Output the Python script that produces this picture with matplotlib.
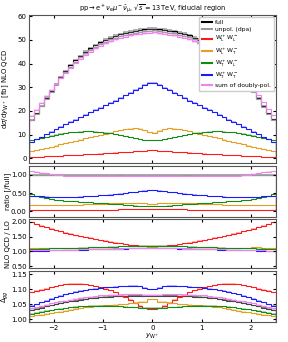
import numpy as np
import matplotlib
matplotlib.use('Agg')
import matplotlib.pyplot as plt
from matplotlib.lines import Line2D

# bins in y_W+
edges = np.linspace(-2.5, 2.5, 51)

# dsigma/dy [fb], NLO QCD
full = [16.4, 19.0, 22.2, 25.4, 28.4, 31.4, 34.3, 36.9, 39.3, 41.4, 43.3, 45.0, 46.5, 47.8, 49.0, 50.0, 51.0, 51.8, 52.5, 53.0, 53.5, 53.9, 54.3, 54.5, 54.7,
        54.8, 54.4, 54.3, 53.8, 53.6, 53.0, 52.6, 51.9, 51.0, 50.1, 48.9, 47.9, 46.4, 45.1, 43.2, 41.5, 39.2, 37.0, 34.2, 31.5, 28.3, 25.5, 22.1, 19.1, 16.5]
unpol = [16.2, 18.8, 21.9, 25.0, 28.0, 30.9, 33.8, 36.3, 38.7, 40.8, 42.7, 44.3, 45.8, 47.1, 48.3, 49.3, 50.2, 51.0, 51.7, 52.2, 52.7, 53.1, 53.5, 53.7, 53.9,
         54.0, 53.6, 53.5, 53.0, 52.8, 52.2, 51.8, 51.1, 50.2, 49.3, 48.2, 47.1, 45.7, 44.4, 42.6, 40.9, 38.6, 36.4, 33.7, 31.0, 27.9, 25.1, 21.8, 18.8, 16.3]
sumpol = [17.9, 20.5, 23.5, 26.4, 29.0, 31.4, 33.9, 36.2, 38.3, 40.3, 42.1, 43.7, 45.1, 46.4, 47.6, 48.5, 49.5, 50.3, 50.9, 51.4, 51.9, 52.3, 52.7, 52.9, 53.1,
          53.2, 52.8, 52.7, 52.2, 52.0, 51.4, 51.0, 50.3, 49.5, 48.6, 47.5, 46.5, 45.0, 43.8, 42.0, 40.4, 38.2, 36.2, 33.8, 31.5, 29.0, 26.6, 23.6, 20.7, 18.1]
LL = [0.55, 0.65, 0.75, 0.85, 0.95, 1.05, 1.15, 1.25, 1.40, 1.50, 1.60, 1.70, 1.85, 1.95, 2.05, 2.20, 2.30, 2.45, 2.55, 2.70, 2.80, 2.95, 3.10, 3.25, 3.40,
      3.40, 3.25, 3.10, 2.95, 2.80, 2.70, 2.55, 2.45, 2.30, 2.20, 2.05, 1.95, 1.85, 1.70, 1.60, 1.50, 1.40, 1.25, 1.15, 1.05, 0.95, 0.85, 0.75, 0.65, 0.55]
LT = [2.9, 3.4, 3.9, 4.4, 4.9, 5.4, 5.9, 6.4, 6.9, 7.4, 7.9, 8.4, 8.9, 9.4, 9.9, 10.4, 10.9, 11.4, 11.8, 12.2, 12.5, 12.7, 12.5, 11.8, 11.0,
      10.9, 11.7, 12.4, 12.7, 12.6, 12.2, 11.8, 11.4, 10.9, 10.4, 9.9, 9.4, 8.9, 8.4, 7.9, 7.4, 6.9, 6.4, 5.9, 5.4, 4.9, 4.4, 3.9, 3.4, 2.9]
TL = [7.6, 8.1, 8.6, 9.1, 9.6, 10.0, 10.4, 10.7, 11.0, 11.2, 11.3, 11.4, 11.4, 11.3, 11.1, 10.9, 10.6, 10.2, 9.8, 9.4, 8.9, 8.5, 8.1, 7.8, 7.6,
      7.6, 7.8, 8.1, 8.5, 8.9, 9.4, 9.8, 10.2, 10.6, 10.9, 11.1, 11.3, 11.4, 11.4, 11.3, 11.2, 11.0, 10.7, 10.4, 10.0, 9.6, 9.1, 8.6, 8.1, 7.6]
TT = [6.9, 8.0, 9.1, 10.2, 11.3, 12.4, 13.4, 14.4, 15.4, 16.4, 17.4, 18.4, 19.4, 20.4, 21.4, 22.4, 23.4, 24.4, 25.5, 26.6, 27.7, 28.8, 29.9, 30.9, 31.8,
      31.9, 30.9, 29.9, 28.8, 27.7, 26.6, 25.5, 24.4, 23.4, 22.4, 21.4, 20.4, 19.4, 18.4, 17.4, 16.4, 15.4, 14.4, 13.4, 12.4, 11.3, 10.2, 9.1, 8.0, 6.9]

# NLO QCD / LO
k_LL = [1.99, 1.93, 1.87, 1.82, 1.77, 1.72, 1.68, 1.64, 1.60, 1.56, 1.52, 1.49, 1.46, 1.42, 1.39, 1.36, 1.33, 1.30, 1.27, 1.25, 1.22, 1.20, 1.18, 1.17, 1.16,
        1.16, 1.17, 1.18, 1.20, 1.22, 1.25, 1.27, 1.30, 1.33, 1.36, 1.39, 1.42, 1.46, 1.49, 1.52, 1.56, 1.60, 1.64, 1.68, 1.72, 1.77, 1.82, 1.87, 1.93, 1.99]
k_LT = [1.12, 1.12, 1.11, 1.11, 1.11, 1.10, 1.10, 1.10, 1.10, 1.10, 1.10, 1.10, 1.09, 1.09, 1.09, 1.09, 1.09, 1.09, 1.09, 1.09, 1.10, 1.10, 1.11, 1.12, 1.14,
        1.14, 1.12, 1.11, 1.10, 1.10, 1.09, 1.09, 1.09, 1.09, 1.09, 1.09, 1.09, 1.09, 1.10, 1.10, 1.10, 1.10, 1.10, 1.11, 1.12, 1.15, 1.14, 1.11, 1.12, 1.12]
k_TL = [1.08, 1.08, 1.09, 1.09, 1.10, 1.10, 1.11, 1.11, 1.12, 1.12, 1.13, 1.13, 1.14, 1.14, 1.15, 1.15, 1.16, 1.16, 1.17, 1.17, 1.18, 1.18, 1.19, 1.19, 1.19,
        1.19, 1.19, 1.19, 1.18, 1.18, 1.17, 1.17, 1.16, 1.16, 1.15, 1.15, 1.14, 1.14, 1.13, 1.13, 1.12, 1.12, 1.11, 1.11, 1.10, 1.10, 1.09, 1.09, 1.08, 1.08]
k_TT = [1.01, 1.01, 1.02, 1.02, 1.03, 1.03, 1.04, 1.04, 1.05, 1.05, 1.06, 1.06, 1.07, 1.07, 1.08, 1.08, 1.08, 1.09, 1.09, 1.09, 1.10, 1.10, 1.10, 1.10, 1.10,
        1.10, 1.10, 1.10, 1.10, 1.10, 1.09, 1.09, 1.09, 1.08, 1.08, 1.08, 1.07, 1.07, 1.06, 1.06, 1.05, 1.05, 1.04, 1.04, 1.03, 1.03, 1.02, 1.02, 1.01, 1.01]
k_sum = [1.04, 1.04, 1.04, 1.04, 1.05, 1.05, 1.05, 1.06, 1.06, 1.06, 1.07, 1.07, 1.07, 1.08, 1.08, 1.08, 1.09, 1.09, 1.09, 1.10, 1.10, 1.10, 1.11, 1.11, 1.11,
         1.11, 1.11, 1.11, 1.10, 1.10, 1.10, 1.09, 1.09, 1.09, 1.08, 1.08, 1.08, 1.07, 1.07, 1.07, 1.06, 1.06, 1.06, 1.05, 1.05, 1.05, 1.04, 1.03, 1.02, 1.01]

# Delta_gg
d_full = [1.030, 1.034, 1.038, 1.042, 1.046, 1.050, 1.053, 1.056, 1.059, 1.062, 1.065, 1.067, 1.069, 1.071, 1.073, 1.074, 1.075, 1.076, 1.077, 1.077, 1.078, 1.078, 1.078, 1.078, 1.078,
          1.078, 1.078, 1.078, 1.078, 1.078, 1.077, 1.077, 1.076, 1.075, 1.074, 1.073, 1.071, 1.069, 1.067, 1.065, 1.062, 1.059, 1.056, 1.053, 1.050, 1.046, 1.042, 1.038, 1.034, 1.030]
d_unpol = [1.031, 1.035, 1.039, 1.043, 1.047, 1.051, 1.054, 1.057, 1.060, 1.063, 1.066, 1.068, 1.070, 1.072, 1.074, 1.075, 1.076, 1.077, 1.078, 1.078, 1.079, 1.079, 1.079, 1.079, 1.079,
           1.079, 1.079, 1.079, 1.079, 1.079, 1.078, 1.078, 1.077, 1.076, 1.075, 1.074, 1.072, 1.070, 1.068, 1.066, 1.063, 1.060, 1.057, 1.054, 1.051, 1.047, 1.043, 1.039, 1.035, 1.031]
d_LL = [1.090, 1.094, 1.098, 1.102, 1.106, 1.110, 1.113, 1.116, 1.118, 1.119, 1.118, 1.116, 1.113, 1.110, 1.106, 1.102, 1.097, 1.090, 1.082, 1.074, 1.065, 1.055, 1.045, 1.037, 1.033,
        1.033, 1.037, 1.045, 1.055, 1.065, 1.074, 1.082, 1.090, 1.097, 1.102, 1.106, 1.110, 1.113, 1.116, 1.118, 1.119, 1.118, 1.116, 1.113, 1.110, 1.106, 1.102, 1.098, 1.094, 1.090]
d_LT = [1.010, 1.012, 1.014, 1.017, 1.019, 1.022, 1.025, 1.028, 1.031, 1.034, 1.037, 1.039, 1.041, 1.043, 1.045, 1.046, 1.047, 1.048, 1.049, 1.050, 1.052, 1.055, 1.058, 1.058, 1.066,
        1.066, 1.058, 1.058, 1.055, 1.052, 1.050, 1.049, 1.048, 1.047, 1.046, 1.045, 1.043, 1.041, 1.039, 1.037, 1.034, 1.031, 1.028, 1.025, 1.022, 1.019, 1.017, 1.014, 1.012, 1.010]
d_TL = [1.018, 1.021, 1.024, 1.027, 1.030, 1.033, 1.035, 1.037, 1.039, 1.041, 1.042, 1.043, 1.044, 1.045, 1.045, 1.045, 1.044, 1.043, 1.042, 1.041, 1.040, 1.039, 1.038, 1.038, 1.038,
        1.038, 1.038, 1.038, 1.039, 1.040, 1.041, 1.042, 1.043, 1.044, 1.045, 1.045, 1.045, 1.044, 1.043, 1.042, 1.041, 1.039, 1.037, 1.035, 1.033, 1.030, 1.027, 1.024, 1.021, 1.018]
d_TT = [1.044, 1.050, 1.056, 1.062, 1.068, 1.073, 1.078, 1.083, 1.087, 1.091, 1.094, 1.097, 1.100, 1.102, 1.104, 1.106, 1.107, 1.108, 1.109, 1.110, 1.111, 1.111, 1.109, 1.104, 1.099,
        1.099, 1.104, 1.109, 1.111, 1.111, 1.110, 1.109, 1.108, 1.107, 1.106, 1.104, 1.102, 1.100, 1.097, 1.094, 1.091, 1.087, 1.083, 1.078, 1.073, 1.068, 1.062, 1.056, 1.050, 1.044]
d_sum = [1.036, 1.040, 1.044, 1.048, 1.052, 1.056, 1.059, 1.062, 1.065, 1.068, 1.071, 1.073, 1.075, 1.077, 1.079, 1.080, 1.081, 1.082, 1.082, 1.083, 1.083, 1.083, 1.083, 1.082, 1.082,
         1.082, 1.082, 1.083, 1.083, 1.083, 1.083, 1.082, 1.082, 1.081, 1.080, 1.079, 1.077, 1.075, 1.073, 1.071, 1.068, 1.065, 1.062, 1.059, 1.056, 1.052, 1.048, 1.044, 1.040, 1.036]

c_full = 'black'
c_unpol = '#9a9a9a'
c_LL = '#ff1a1a'
c_LT = '#e0a020'
c_TL = '#138a13'
c_TT = '#1a1aff'
c_sum = '#ee82ee'

plt.rcParams['font.size'] = 5
plt.rcParams['xtick.direction'] = 'in'
plt.rcParams['ytick.direction'] = 'in'
plt.rcParams['xtick.top'] = True
plt.rcParams['ytick.right'] = True
plt.rcParams['axes.edgecolor'] = '#555555'
plt.rcParams['xtick.major.size'] = 2.5
plt.rcParams['ytick.major.size'] = 2.5
plt.rcParams['xtick.major.pad'] = 2
plt.rcParams['ytick.major.pad'] = 1.5

fig = plt.figure(figsize=(2.88, 3.42), dpi=100)
gs = fig.add_gridspec(4, 1, height_ratios=[148, 51, 49, 51], hspace=0.035,
                      left=0.10, right=0.958, top=0.956, bottom=0.0585)
ax0 = fig.add_subplot(gs[0])
ax1 = fig.add_subplot(gs[1], sharex=ax0)
ax2 = fig.add_subplot(gs[2], sharex=ax0)
ax3 = fig.add_subplot(gs[3], sharex=ax0)


def draw(ax, vals, col, band=0.01, lw=0.8):
    v = np.array(vals)
    ax.stairs(v * (1 + band), edges, baseline=v * (1 - band), fill=True, color=col, alpha=0.3, lw=0)
    ax.stairs(v, edges, color=col, lw=lw)


fulla = np.array(full)
series = [(full, c_full, 'full'), (unpol, c_unpol, 'unpol. (dpa)'),
          (LL, c_LL, r'$\mathrm{W}^+_\mathrm{L}\mathrm{W}^-_\mathrm{L}$'),
          (LT, c_LT, r'$\mathrm{W}^+_\mathrm{L}\mathrm{W}^-_\mathrm{T}$'),
          (TL, c_TL, r'$\mathrm{W}^+_\mathrm{T}\mathrm{W}^-_\mathrm{L}$'),
          (TT, c_TT, r'$\mathrm{W}^+_\mathrm{T}\mathrm{W}^-_\mathrm{T}$'),
          (sumpol, c_sum, 'sum of doubly-pol.')]

handles = []
for vals, col, lab in series:
    draw(ax0, vals, col, band=0.012)
    draw(ax1, np.array(vals) / fulla, col, band=0.012)
    handles.append(Line2D([], [], color=col, lw=1.5, label=lab))

for vals, col in [(k_LL, c_LL), (k_LT, c_LT), (k_TL, c_TL), (k_TT, c_TT), (k_sum, c_sum)]:
    draw(ax2, vals, col, band=0.008)

for vals, col in [(d_unpol, c_unpol), (d_full, '#444444'), (d_LL, c_LL), (d_LT, c_LT),
                  (d_TL, c_TL), (d_TT, c_TT), (d_sum, c_sum)]:
    draw(ax3, vals, col, band=0.0015)

ax0.set_xlim(-2.5, 2.5)
ax0.set_ylim(-2, 60.5)
ax0.set_yticks([0, 10, 20, 30, 40, 50, 60])
ax0.set_ylabel(r'd$\sigma$/d$y_{\mathrm{W}^+}$ [fb] NLO QCD')
ax0.set_title(r'$\mathrm{pp}\rightarrow\mathrm{e}^+\nu_\mathrm{e}\mu^-\bar{\nu}_\mu$, $\sqrt{s}=13\,$TeV, fiducial region',
              fontsize=4.8, pad=3)
ax0.legend(handles=handles, loc='upper right', fontsize=4.3, handlelength=1.7,
           handletextpad=0.5, labelspacing=0.3, borderpad=0.45, framealpha=1,
           edgecolor='#cccccc', fancybox=False, borderaxespad=0.4)

ax1.set_ylim(-0.15, 1.25)
ax1.set_yticks([0.0, 0.5, 1.0])
ax1.set_yticklabels(['0.00', '0.50', '1.00'])
ax1.set_ylabel('ratio [/full]')

ax2.set_ylim(0.42, 2.09)
ax2.set_yticks([0.5, 1.0, 1.5, 2.0])
ax2.set_yticklabels(['0.50', '1.00', '1.50', '2.00'])
ax2.set_ylabel('NLO QCD / LO')

ax3.set_ylim(0.99, 1.161)
ax3.set_yticks([1.0, 1.05, 1.1, 1.15])
ax3.set_yticklabels(['1.00', '1.05', '1.10', '1.15'])
ax3.set_ylabel(r'$\Delta_{gg}$')
ax3.set_xlabel(r'$y_{\mathrm{W}^+}$', labelpad=1)
ax3.set_xticks([-2, -1, 0, 1, 2])

for ax in (ax0, ax1, ax2):
    ax.tick_params(labelbottom=False)
for ax in (ax0, ax1, ax2, ax3):
    ax.yaxis.set_label_coords(-0.072, 0.5)

fig.savefig('out.png', dpi=100)
